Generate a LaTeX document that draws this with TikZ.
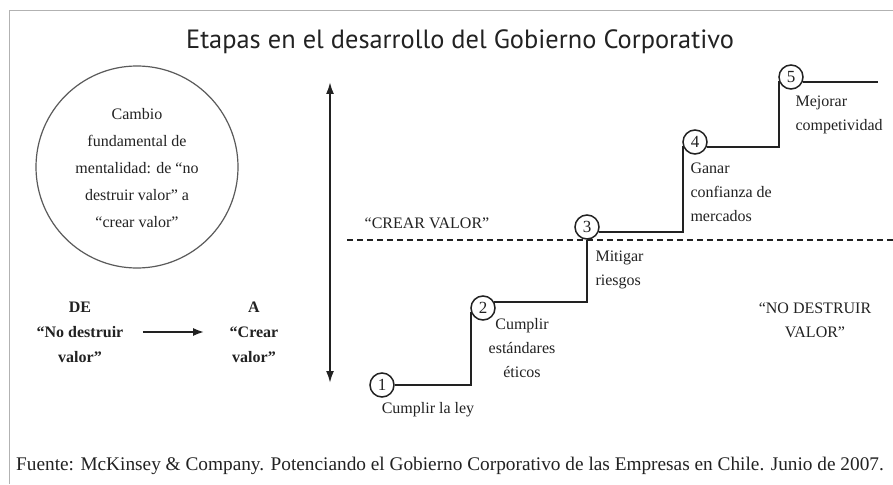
\documentclass[tikz,border=0pt]{standalone}
\usepackage{fontspec}
\setmainfont{Liberation Serif}
\newfontfamily\titlefont{PT Sans}
\usetikzlibrary{arrows.meta}
\definecolor{ink}{HTML}{222222}
\definecolor{rim}{HTML}{5A5A5A}
\tikzstyle{stepnode}=[circle, draw=ink, line width=1.5, minimum size=24, inner sep=0, text=ink, font=\fontsize{17}{17}\selectfont]
\tikzstyle{stepline}=[ink, line width=2.2]
\tikzstyle{steptext}=[text=ink, font=\fontsize{16}{24}\selectfont, align=center]
\tikzstyle{boldtext}=[text=ink, font=\fontsize{16}{25}\selectfont\bfseries, align=center]
\tikzstyle{bigarrow}=[ink, line width=2, {Latex[length=12,width=8]}-{Latex[length=12,width=8]}]
\tikzstyle{flowarrow}=[ink, line width=2, -{Latex[length=11,width=8]}]
\tikzstyle{valueline}=[ink, line width=2, dash pattern=on 6 off 4]
\tikzstyle{frame}=[gray!60, line width=1]

\begin{document}
\begin{tikzpicture}[x=1pt, y=-1pt]
      \useasboundingbox[fill=white] (0,0) rectangle (893,484);
      \draw[frame] (9,484) |- (893,11);
      \node[text=ink, font=\fontsize{26.4}{26}\titlefont] (title) at (460,42) {Etapas en el desarrollo del Gobierno Corporativo};
      \node[circle, draw=rim, line width=1.2, minimum size=202] (ring) at (137,167) {};
      \node[steptext, font=\fontsize{16}{27}\selectfont] (mindset) at (137,168) {Cambio\\fundamental de\\mentalidad: de “no\\destruir valor” a\\“crear valor”};
      \node[boldtext] (from) at (80,332) {DE\\“No destruir\\valor”};
      \node[boldtext] (to) at (254,332) {A\\“Crear\\valor”};
      \draw[flowarrow, shorten <=16, shorten >=22] (from.east) -- (from.east -| to.west);
      \coordinate (high) at (330,82);
      \coordinate (low) at (330,383);
      \draw[bigarrow] (high) -- (low);
      \coordinate (dashL) at (347,240);
      \coordinate (dashR) at (893,240);
      \draw[valueline] (dashL) -- (dashR);
      \node[steptext] (create) at (427,223) {“CREAR VALOR”};
      \node[steptext] (keep) at (815,320) {“NO DESTRUIR\\VALOR”};
      \node[stepnode] (S1) at (382,385) {1};
      \node[stepnode] (S2) at (483,308) {2};
      \node[stepnode] (S3) at (587,227) {3};
      \node[stepnode] (S4) at (695,142) {4};
      \node[stepnode] (S5) at (791,77) {5};
      \coordinate (top) at (878,83);
      \draw[stepline] (S1.east) -| (S2.200);
      \draw[stepline] (S2.30) -| (S3.south);
      \draw[stepline] (S3.-25) -| (S4.200);
      \draw[stepline] (S4.-25) -| (S5.200);
      \draw[stepline] (S5.-25) -- (S5.-25 -| top);
      \node[steptext] (L1) at (428,410) {Cumplir la ley};
      \node[steptext] (L2) at (522,348) {Cumplir\\estándares\\éticos};
      \node[steptext, align=left, anchor=west] (L3) at (592,270) {Mitigar\\riesgos};
      \node[steptext, align=left, anchor=west] (L4) at (687,192) {Ganar\\confianza de\\mercados};
      \node[steptext, align=left, anchor=west] (L5) at (792,115) {Mejorar\\competividad};
      \node[text=ink, font=\fontsize{19.3}{19}\selectfont] (source) at (450,466) {Fuente: McKinsey \& Company. Potenciando el Gobierno Corporativo de las Empresas en Chile. Junio de 2007.};
    \end{tikzpicture}
\end{document}
